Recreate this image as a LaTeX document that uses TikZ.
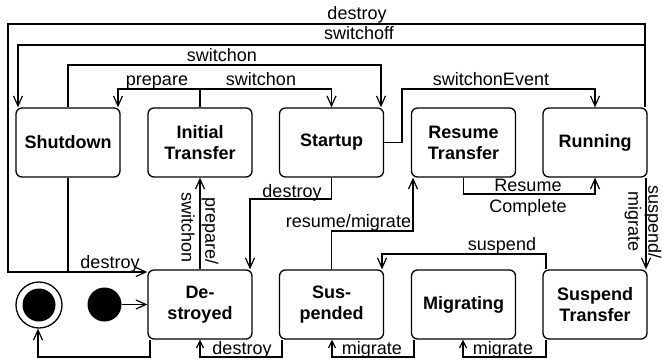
\documentclass[tikz,border=0pt]{standalone}
\usepackage{fontspec}
\setmainfont{Liberation Sans}
\usetikzlibrary{arrows.meta}
\begin{document}
\begin{tikzpicture}[x=1pt,y=-1pt,
  state/.style={draw, line width=1.3pt, rounded corners=6pt, minimum width=104pt, minimum height=69pt, inner sep=0pt, align=center, font=\fontsize{18}{21}\selectfont\bfseries},
  lbl/.style={font=\fontsize{18}{21}\selectfont, inner sep=0pt, anchor=base},
  vlbl/.style={font=\fontsize{18}{21}\selectfont, inner sep=0pt, rotate=-90},
  line/.style={line width=1.2pt},
  conn/.style={line width=1.2pt, -{Straight Barb[length=10pt,width=9pt]}},
  sconn/.style={line width=1.2pt, -{Straight Barb[length=7pt,width=7pt]}}
]
\useasboundingbox (0,0) rectangle (663,361);
% states
\node[state] (S)  at (68,142.5) {Shutdown};
\node[state] (I)  at (200,142.5) {Initial\\Transfer};
\node[state] (St) at (331.5,142.5) {Startup};
\node[state] (RT) at (463.5,142.5) {Resume\\Transfer};
\node[state] (R)  at (595,142.5) {Running};
\node[state] (D)  at (200,304.5) {De-\\stroyed};
\node[state] (Su) at (331.5,304.5) {Sus-\\pended};
\node[state] (M)  at (463.5,304.5) {Migrating};
\node[state] (ST) at (595,304.5) {Suspend\\Transfer};
% pseudo states
\node[circle, draw, line width=1.3pt, minimum size=46pt, inner sep=0pt] (F) at (39,305) {};
\node[circle, fill, minimum size=33pt, inner sep=0pt] (Fi) at (39,305) {};
\node[circle, fill, minimum size=34pt, inner sep=0pt] (Init) at (104.5,304.5) {};
% junctions
\coordinate (j1) at (645,45);
\coordinate (j2) at (200,89);
% connectors
\draw[conn] (R.north -| 645,0) |- (8,24) |- (D.west |- 0,272);
\draw[conn] (j1) -| (S.north -| 18,0);
\draw[line] (S.south) -- (S.south |- 0,272);
\draw[conn] (S.north) |- (381,65) -- (St.north -| 381,0);
\draw[line] (I.north) -- (j2);
\draw[conn] (j2) -| (S.north -| 118,0);
\draw[conn] (j2) -| (St.north);
\draw[conn] (St.east) -| (402,89) -| (R.north);
\draw[conn] (St.south) |- (250,199) -- (D.north -| 250,0);
\draw[conn] (D.north) -- (I.south);
\draw[conn] (Su.north) |- (413,231) -- (RT.south -| 413,0);
\draw[conn] (RT.south) |- (595,194) -- (R.south);
\draw[conn] (R.south -| 646,0) -- (ST.north -| 646,0);
\draw[conn] (ST.north -| 546,0) |- (382,254) -- (Su.north -| 382,0);
\draw[conn] (D.south -| 150,0) |- (38,357) -- (F.south -| 38,0);
\draw[sconn] (Su.south -| 282,0) |- (200,357) -- (D.south);
\draw[sconn] (M.south -| 414,0) |- (332,357) -- (Su.south -| 332,0);
\draw[sconn] (ST.south -| 546,0) |- (463,357) -- (M.south -| 463,0);
\draw[conn] (Init.east) -- (D.west |- Init.east);
% labels
\node[lbl] (l1) at (357,20) {destroy};
\node[lbl] (l2) at (359,40) {switchoff};
\node[lbl] (l3) at (222,61) {switchon};
\node[lbl] (l4) at (157,85) {prepare};
\node[lbl] (l5) at (261,85) {switchon};
\node[lbl] (l6) at (491,85) {switchonEvent};
\node[lbl] (l7) at (110,268) {destroy};
\node[lbl] (l8) at (292,197) {destroy};
\node[lbl] (l9) at (348.5,227) {resume/migrate};
\node[lbl] (l10) at (528,191) {Resume};
\node[lbl] (l11) at (528,212) {Complete};
\node[lbl] (l12) at (502,250) {suspend};
\node[lbl] (l13) at (242,354) {destroy};
\node[lbl] (l14) at (372,354) {migrate};
\node[lbl] (l15) at (503,354) {migrate};
\node[vlbl] (l16) at (188,228) {switchon};
\node[vlbl] (l17) at (210,231) {prepare/};
\node[vlbl] (l18) at (633,222) {migrate};
\node[vlbl] (l19) at (653,222) {suspend/};
\end{tikzpicture}
\end{document}
